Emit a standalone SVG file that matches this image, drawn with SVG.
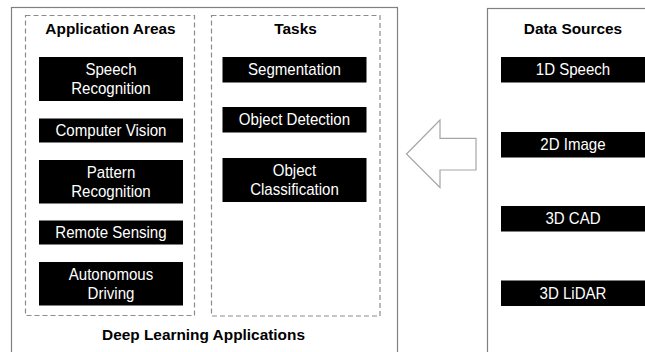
<svg xmlns="http://www.w3.org/2000/svg" width="645" height="352" viewBox="0 0 645 352">
<style>
.frame{fill:#fff;stroke:#808080;stroke-width:1.2}
.dash{fill:none;stroke:#8c8c8c;stroke-width:1.2;stroke-dasharray:5,3}
.blk{fill:#000}
.lbl{font-family:"Liberation Sans",Arial,sans-serif;font-size:16.2px;fill:#fff;text-anchor:middle;transform-box:fill-box;transform-origin:center;transform:scaleX(0.93)}
.ttl{font-family:"Liberation Sans",Arial,sans-serif;font-size:15.4px;font-weight:bold;fill:#000;text-anchor:middle}
.arrow{fill:#fff;stroke:#a6a6a6;stroke-width:1.2}
</style>
<rect width="645" height="352" fill="#fff"/>
<g id="deep-learning-applications">
<rect class="frame" x="11.5" y="7.5" width="386" height="370"/>
<text class="ttl" x="203.5" y="340">Deep Learning Applications</text>
</g>
<g id="application-areas">
<rect class="dash" x="25.5" y="15.5" width="169" height="300"/>
<text class="ttl" x="110.5" y="34">Application Areas</text>
</g>
<g id="speech-recognition"><rect class="blk" x="39" y="57" width="144" height="44"/><text class="lbl" x="111" y="75.5">Speech</text><text class="lbl" x="111" y="94.5">Recognition</text></g>
<g id="computer-vision"><rect class="blk" x="39" y="118.5" width="144" height="24"/><text class="lbl" x="111" y="136.5">Computer Vision</text></g>
<g id="pattern-recognition"><rect class="blk" x="39" y="160" width="144" height="43.5"/><text class="lbl" x="111" y="178.5">Pattern</text><text class="lbl" x="111" y="197.5">Recognition</text></g>
<g id="remote-sensing"><rect class="blk" x="39" y="220.5" width="144" height="24"/><text class="lbl" x="111" y="238.5">Remote Sensing</text></g>
<g id="autonomous-driving"><rect class="blk" x="39" y="262" width="144" height="43.5"/><text class="lbl" x="111" y="280.5">Autonomous</text><text class="lbl" x="111" y="299.5">Driving</text></g>
<g id="tasks">
<rect class="dash" x="211.5" y="15.5" width="168.5" height="300.5"/>
<text class="ttl" x="295.5" y="34">Tasks</text>
</g>
<g id="segmentation"><rect class="blk" x="222.5" y="57" width="144" height="25.5"/><text class="lbl" x="294.5" y="75.5">Segmentation</text></g>
<g id="object-detection"><rect class="blk" x="222.5" y="107" width="144" height="25.5"/><text class="lbl" x="294.5" y="125.5">Object Detection</text></g>
<g id="object-classification"><rect class="blk" x="222.5" y="158" width="144" height="44"/><text class="lbl" x="294.5" y="176.5">Object</text><text class="lbl" x="294.5" y="195.5">Classification</text></g>
<g id="data-sources">
<rect class="frame" x="487.5" y="8.5" width="200" height="370"/>
<text class="ttl" x="573" y="34">Data Sources</text>
</g>
<g id="speech-1d"><rect class="blk" x="501" y="57" width="144" height="25.5"/><text class="lbl" x="573" y="75.5">1D Speech</text></g>
<g id="image-2d"><rect class="blk" x="501" y="132" width="144" height="25.5"/><text class="lbl" x="573" y="150.5">2D Image</text></g>
<g id="cad-3d"><rect class="blk" x="501" y="206" width="144" height="25.5"/><text class="lbl" x="573" y="224.5">3D CAD</text></g>
<g id="lidar-3d"><rect class="blk" x="501" y="280.5" width="144" height="25.5"/><text class="lbl" x="573" y="299">3D LiDAR</text></g>
<g id="connectors">
<path class="arrow" d="M406.5,154 L440,120 L440,138.3 L476,138.3 L476,170 L440,170 L440,187.5 Z"/>
</g>
</svg>
